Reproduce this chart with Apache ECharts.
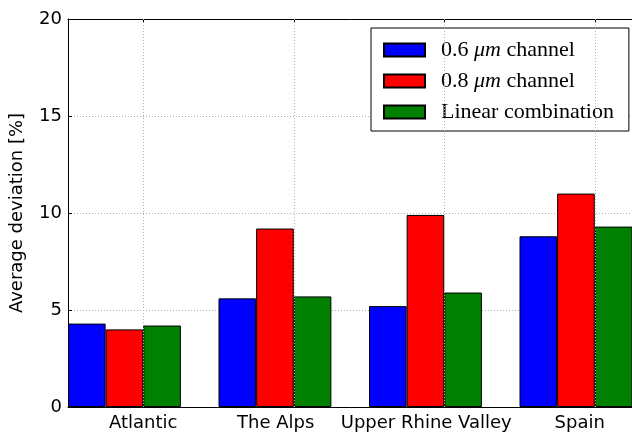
<!DOCTYPE html>
<html>
<head>
<meta charset="utf-8">
<script src="https://cdn.jsdelivr.net/npm/echarts@6/dist/echarts.min.js"></script>
<style>
  html, body { margin: 0; padding: 0; background: #fff; }
  #chart { width: 632px; height: 432px; }
</style>
</head>
<body>
<div id="chart"></div>
<script>
const REGIONS = ["Atlantic", "The Alps", "Upper Rhine Valley", "Spain"];
const SERIES_NAMES = ["0.6 μm channel", "0.8 μm channel", "Linear combination"];
const CHANNEL_06 = [4.3, 5.6, 5.2, 8.8];
const CHANNEL_08 = [4.0, 9.2, 9.9, 11.0];
const LINEAR_COMB = [4.2, 5.7, 5.9, 9.3];
const Y_TICKS = { min: 0, max: 20, interval: 5 };

const COLORS = ["#0000ff", "#ff0000", "#008000"];
const SANS = "DejaVu Sans";
const SERIF = "Liberation Serif";

// label nudges so the names sit like in the original figure
const LABEL_SHIFT = { "Atlantic": "a", "The Alps": "b", "Upper Rhine Valley": "b", "Spain": "c" };

function barSeries(name, values, color) {
  return {
    name,
    type: "bar",
    data: values,
    barGap: "0%",
    barCategoryGap: "0%",
    z: 3,
    itemStyle: { color, borderColor: "#000", borderWidth: 1 }
  };
}

const chart = echarts.init(document.getElementById("chart"), null, { renderer: "canvas" });

chart.setOption({
  animation: false,
  backgroundColor: "#fff",
  // plot runs past the right edge, like the cropped original
  grid: { left: 68, top: 19, height: 388, width: 602, containLabel: false, outerBoundsMode: "none" },
  legend: {
    data: SERIES_NAMES,
    orient: "vertical",
    left: 371,
    top: 28,
    padding: [11, 15, 8, 12],
    itemWidth: 41,
    itemHeight: 13,
    itemGap: 9,
    icon: "rect",
    backgroundColor: "#fff",
    borderColor: "#000",
    borderWidth: 1,
    borderRadius: 0,
    textStyle: {
      fontFamily: SERIF,
      fontSize: 22,
      color: "#000",
      padding: [0, 0, 0, 11],
      rich: {
        i: { fontFamily: SERIF, fontSize: 22, fontStyle: "italic", color: "#000" }
      }
    },
    formatter: (name) => name.replace("μm", "{i|μm}")
  },
  xAxis: [
    {
      type: "category",
      data: REGIONS,
      position: "bottom",
      axisLine: { lineStyle: { color: "#000", width: 1 } },
      axisTick: { show: true, inside: true, alignWithLabel: true, length: 4, lineStyle: { color: "#000" } },
      splitLine: { show: false },
      axisLabel: {
        interval: 0,
        hideOverlap: false,
        margin: 7,
        fontFamily: SANS,
        fontSize: 18,
        color: "#000",
        formatter: (v) => `{${LABEL_SHIFT[v]}|${v}}`,
        rich: {
          a: { fontFamily: SANS, fontSize: 18, color: "#000" },
          b: { fontFamily: SANS, fontSize: 18, color: "#000", padding: [0, 36, 0, 0] },
          c: { fontFamily: SANS, fontSize: 18, color: "#000", padding: [0, 30, 0, 0] }
        }
      }
    },
    {
      type: "category",
      data: REGIONS,
      position: "top",
      axisLine: { show: true, lineStyle: { color: "#000", width: 1 } },
      axisTick: { show: true, inside: true, alignWithLabel: true, length: 4, lineStyle: { color: "#000" } },
      axisLabel: { show: false },
      splitLine: { show: false }
    }
  ],
  yAxis: {
    type: "value",
    min: Y_TICKS.min,
    max: Y_TICKS.max,
    interval: Y_TICKS.interval,
    name: "Average deviation [%]",
    nameLocation: "middle",
    nameGap: 42,
    nameTextStyle: { fontFamily: SANS, fontSize: 18, color: "#000" },
    axisLine: { show: true, lineStyle: { color: "#000", width: 1 } },
    axisTick: { show: true, inside: true, length: 4, lineStyle: { color: "#000" } },
    axisLabel: { margin: 6, fontFamily: SANS, fontSize: 18, color: "#000" },
    splitLine: { show: true, lineStyle: { color: "#b0b0b0", type: [1, 2], width: 1 } }
  },
  series: [
    barSeries(SERIES_NAMES[0], CHANNEL_06, COLORS[0]),
    barSeries(SERIES_NAMES[1], CHANNEL_08, COLORS[1]),
    barSeries(SERIES_NAMES[2], LINEAR_COMB, COLORS[2]),
    {
      // empty slot that makes the gap between groups
      name: "gap",
      type: "bar",
      data: REGIONS.map(() => "-"),
      barGap: "0%",
      barCategoryGap: "0%",
      itemStyle: { color: "transparent", borderWidth: 0 }
    },
    {
      // vertical dotted grid at the region ticks, behind the bars
      name: "grid",
      type: "line",
      data: [],
      z: 1,
      silent: true,
      markLine: {
        silent: true,
        symbol: "none",
        label: { show: false },
        lineStyle: { color: "#b0b0b0", type: [1, 2], width: 1 },
        data: REGIONS.map((r) => ({ xAxis: r }))
      }
    }
  ]
});
</script>
</body>
</html>
